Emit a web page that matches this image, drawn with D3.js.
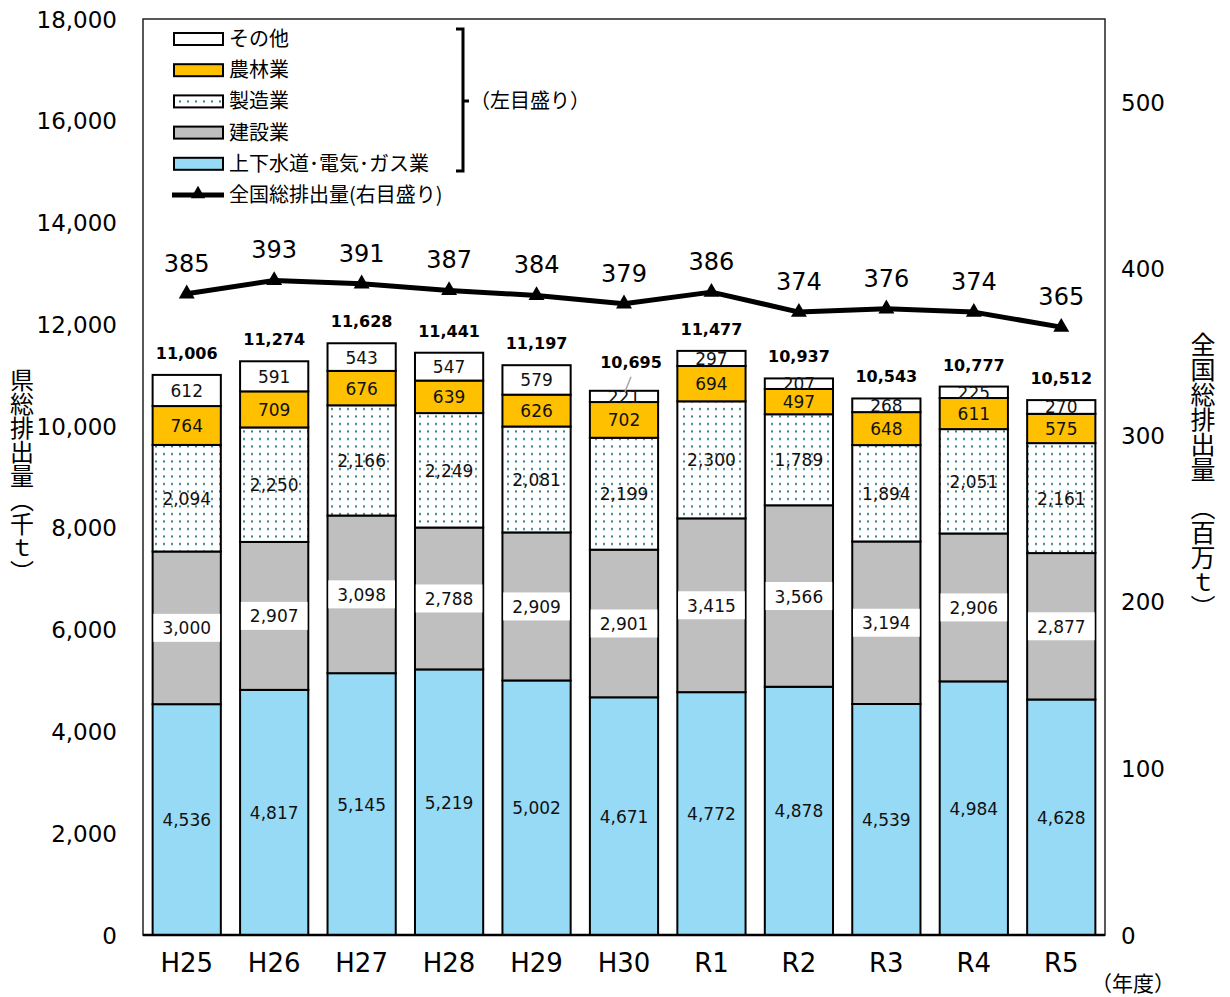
<!DOCTYPE html>
<html>
<head>
<meta charset="utf-8">
<script src="https://cdn.jsdelivr.net/npm/d3@7"></script>
<style>
  body { margin: 0; background: #fff; }
  svg text { font-family: "DejaVu Sans", "Noto Sans CJK JP", sans-serif; }
  .jp { font-family: "Noto Sans CJK JP", sans-serif !important; }
</style>
</head>
<body>
<svg id="chart" width="1230" height="997"></svg>
<script>
// 年度
const years = ['H25', 'H26', 'H27', 'H28', 'H29', 'H30', 'R1', 'R2', 'R3', 'R4', 'R5'];

// 県総排出量 (千t) by sector
const water = [4536, 4817, 5145, 5219, 5002, 4671, 4772, 4878, 4539, 4984, 4628];
const construction = [3000, 2907, 3098, 2788, 2909, 2901, 3415, 3566, 3194, 2906, 2877];
const manufacturing = [2094, 2250, 2166, 2249, 2081, 2199, 2300, 1789, 1894, 2051, 2161];
const agriculture = [764, 709, 676, 639, 626, 702, 694, 497, 648, 611, 575];
const other = [612, 591, 543, 547, 579, 221, 297, 207, 268, 225, 270];
const totals = [11006, 11274, 11628, 11441, 11197, 10695, 11477, 10937, 10543, 10777, 10512];

// 全国総排出量 (百万t)
const national = [385, 393, 391, 387, 384, 379, 386, 374, 376, 374, 365];

const leftTicks = [0, 2000, 4000, 6000, 8000, 10000, 12000, 14000, 16000, 18000];
const rightTicks = [0, 100, 200, 300, 400, 500];

const sectors = [
    {key: 'water', name: '上下水道･電気･ガス業', values: water, fill: '#97DAF6'},
    {key: 'construction', name: '建設業', values: construction, fill: '#BFBFBF'},
    {key: 'manufacturing', name: '製造業', values: manufacturing, fill: 'url(#dots)'},
    {key: 'agriculture', name: '農林業', values: agriculture, fill: '#FFC000'},
    {key: 'other', name: 'その他', values: other, fill: '#FFFFFF'},
];

const plotL = 143, plotR = 1105, plotT = 19, plotB = 935;

const svg = d3.select('#chart');

const defs = svg.append('defs');
const pat = defs.append('pattern')
    .attr('id', 'dots')
    .attr('patternUnits', 'userSpaceOnUse')
    .attr('width', 8)
    .attr('height', 7.5);
pat.append('rect').attr('width', 8).attr('height', 7.5).attr('fill', '#fff');
pat.append('rect').attr('x', 3).attr('y', 3).attr('width', 2).attr('height', 2).attr('fill', '#2E7B8C');

const x = d3.scaleBand()
    .domain(years)
    .range([plotL, plotR])
    .paddingInner(0.22)
    .paddingOuter(0.11);

const yL = d3.scaleLinear().domain([0, 18000]).range([plotB, plotT]);
const yR = d3.scaleLinear().domain([0, 550]).range([plotB, plotT]);

// plot frame
svg.append('rect')
    .attr('x', plotL).attr('y', plotT)
    .attr('width', plotR - plotL).attr('height', plotB - plotT)
    .attr('fill', 'none').attr('stroke', '#222').attr('stroke-width', 1.5);

// stacked rows
const rows = years.map((yr, i) => {
    const r = {year: yr};
    sectors.forEach(s => r[s.key] = s.values[i]);
    return r;
});
const stacked = d3.stack().keys(sectors.map(s => s.key))(rows);

const fmt = d3.format(',');

const layers = svg.append('g').selectAll('g')
    .data(stacked)
    .enter()
    .append('g')
    .attr('fill', (d, i) => sectors[i].fill);

layers.selectAll('rect')
    .data(d => d)
    .enter()
    .append('rect')
    .attr('x', d => x(d.data.year))
    .attr('y', d => yL(d[1]))
    .attr('width', x.bandwidth())
    .attr('height', d => yL(d[0]) - yL(d[1]))
    .attr('stroke', '#000')
    .attr('stroke-width', 2);

// segment labels
stacked.forEach((layer, li) => {
    const g = svg.append('g');
    layer.forEach(d => {
        const cx = x(d.data.year) + x.bandwidth() / 2;
        const cy = (yL(d[0]) + yL(d[1])) / 2;
        const lbl = g.append('g');
        const t = lbl.append('text')
            .attr('x', cx)
            .attr('y', cy + 6.5)
            .attr('text-anchor', 'middle')
            .style('font-size', '17px')
            .attr('fill', '#111')
            .text(fmt(d[1] - d[0]));
        if (sectors[li].key === 'construction') {
            const w = t.node().getComputedTextLength() + 18;
            lbl.insert('rect', 'text')
                .attr('x', cx - w / 2)
                .attr('y', cy - 14)
                .attr('width', w)
                .attr('height', 28)
                .attr('fill', '#fff');
        }
    });
});

// totals above bars
const leaderYears = ['H30'];
years.forEach((yr, i) => {
    const cx = x(yr) + x.bandwidth() / 2;
    const barTop = yL(totals[i]);
    if (leaderYears.includes(yr)) {
        svg.append('line')
            .attr('x1', cx + 7).attr('y1', barTop - 14)
            .attr('x2', cx + 1).attr('y2', barTop + 1)
            .attr('stroke', '#A6A6A6').attr('stroke-width', 1.5);
        svg.append('text')
            .attr('x', cx + 7).attr('y', barTop - 23)
            .attr('text-anchor', 'middle')
            .style('font-size', '16px').style('font-weight', 'bold')
            .text(fmt(totals[i]));
    } else {
        svg.append('text')
            .attr('x', cx).attr('y', barTop - 16)
            .attr('text-anchor', 'middle')
            .style('font-size', '16px').style('font-weight', 'bold')
            .text(fmt(totals[i]));
    }
});

// national line
const line = d3.line()
    .x((d, i) => x(years[i]) + x.bandwidth() / 2)
    .y(d => yR(d));

svg.append('path')
    .datum(national)
    .attr('d', line)
    .attr('fill', 'none')
    .attr('stroke', '#000')
    .attr('stroke-width', 5)
    .attr('stroke-linejoin', 'round');

svg.append('g').selectAll('path')
    .data(national)
    .enter()
    .append('path')
    .attr('d', d3.symbol(d3.symbolTriangle).size(110))
    .attr('transform', (d, i) => `translate(${x(years[i]) + x.bandwidth() / 2},${yR(d)})`)
    .attr('fill', '#000');

svg.append('g').selectAll('text')
    .data(national)
    .enter()
    .append('text')
    .attr('x', (d, i) => x(years[i]) + x.bandwidth() / 2)
    .attr('y', d => yR(d) - 22)
    .attr('text-anchor', 'middle')
    .style('font-size', '24px')
    .text(d => d);

// axes
svg.append('line')
    .attr('x1', plotL).attr('x2', plotR)
    .attr('y1', plotB).attr('y2', plotB)
    .attr('stroke', '#000').attr('stroke-width', 2.5);

svg.append('g').selectAll('text')
    .data(leftTicks)
    .enter()
    .append('text')
    .attr('x', 117)
    .attr('y', d => yL(d) + 8.5)
    .attr('text-anchor', 'end')
    .style('font-size', '23px')
    .text(d => fmt(d));

svg.append('g').selectAll('text')
    .data(rightTicks)
    .enter()
    .append('text')
    .attr('x', 1121)
    .attr('y', d => yR(d) + 8.5)
    .attr('text-anchor', 'start')
    .style('font-size', '23px')
    .text(d => d);

svg.append('g').selectAll('text')
    .data(years)
    .enter()
    .append('text')
    .attr('x', d => x(d) + x.bandwidth() / 2)
    .attr('y', 972)
    .attr('text-anchor', 'middle')
    .style('font-size', '26px')
    .text(d => d);

svg.append('text')
    .attr('class', 'jp')
    .attr('x', 1133).attr('y', 991)
    .attr('text-anchor', 'middle')
    .style('font-size', '21px')
    .text('（年度）');

// axis titles
svg.append('text')
    .attr('class', 'jp')
    .attr('x', 22).attr('y', 476)
    .attr('text-anchor', 'middle')
    .style('writing-mode', 'vertical-rl')
    .style('font-size', '24px')
    .text('県総排出量（千ｔ）');

svg.append('text')
    .attr('class', 'jp')
    .attr('x', 1203).attr('y', 476)
    .attr('text-anchor', 'middle')
    .style('writing-mode', 'vertical-rl')
    .style('font-size', '25px')
    .text('全国総排出量　（百万ｔ）');

// legend
const legend = svg.append('g');
const legendItems = sectors.slice().reverse();
legendItems.forEach((s, i) => {
    const cy = 39 + i * 31.2;
    legend.append('rect')
        .attr('x', 174).attr('y', cy - 6)
        .attr('width', 49).attr('height', 12)
        .attr('fill', s.fill)
        .attr('stroke', '#000').attr('stroke-width', 2);
    legend.append('text')
        .attr('class', 'jp')
        .attr('x', 229).attr('y', cy + 7)
        .style('font-size', '20px')
        .text(s.name);
});
const lineY = 39 + 5 * 31.2;
legend.append('line')
    .attr('x1', 172).attr('x2', 224)
    .attr('y1', lineY).attr('y2', lineY)
    .attr('stroke', '#000').attr('stroke-width', 5);
legend.append('path')
    .attr('d', d3.symbol(d3.symbolTriangle).size(90))
    .attr('transform', `translate(198,${lineY - 1})`);
legend.append('text')
    .attr('class', 'jp')
    .attr('x', 229).attr('y', lineY + 7)
    .style('font-size', '20px')
    .text('全国総排出量(右目盛り)');

// bracket for left-axis series
legend.append('path')
    .attr('d', 'M456,29 H463 V171 H456 M463,101 H469')
    .attr('fill', 'none')
    .attr('stroke', '#000')
    .attr('stroke-width', 3);
legend.append('text')
    .attr('class', 'jp')
    .attr('x', 470).attr('y', 108)
    .style('font-size', '20px')
    .text('（左目盛り）');
</script>
</body>
</html>
